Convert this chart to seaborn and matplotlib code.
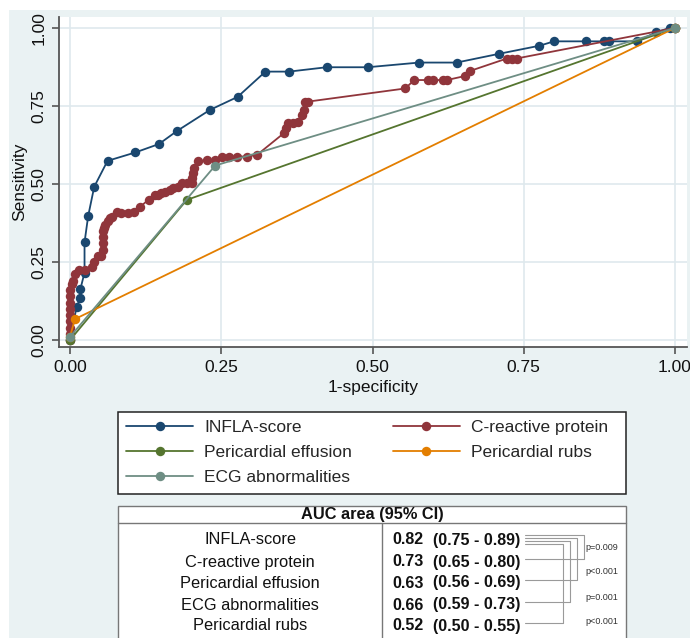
import numpy as np
import pandas as pd
import matplotlib.pyplot as plt
import seaborn as sns
from matplotlib.lines import Line2D
from matplotlib.patches import Rectangle

# ROC points: 1-specificity (fpr) and sensitivity (tpr)
infla_fpr = [0.0, 0.011, 0.017, 0.017, 0.024, 0.024, 0.030, 0.040, 0.062, 0.108,
             0.147, 0.177, 0.231, 0.277, 0.323, 0.362, 0.424, 0.492, 0.577, 0.639,
             0.709, 0.776, 0.800, 0.853, 0.883, 0.891, 0.937, 0.969, 0.991, 1.0]
infla_tpr = [0.0, 0.107, 0.134, 0.162, 0.216, 0.313, 0.397, 0.491, 0.574, 0.601,
             0.628, 0.670, 0.737, 0.779, 0.860, 0.860, 0.874, 0.874, 0.889, 0.889,
             0.917, 0.943, 0.957, 0.957, 0.957, 0.957, 0.957, 0.986, 1.0, 1.0]

crp_fpr = [0.0, 0.0, 0.0, 0.0, 0.0, 0.0, 0.0, 0.0, 0.0, 0.003, 0.005, 0.008, 0.015, 0.025,
           0.036, 0.040, 0.046, 0.052, 0.054, 0.055, 0.055, 0.055, 0.056, 0.058, 0.062, 0.066, 0.069,
           0.077, 0.085, 0.096, 0.106, 0.116, 0.130, 0.140, 0.145, 0.151, 0.157, 0.165,
           0.171, 0.178, 0.185, 0.193, 0.201, 0.201, 0.203, 0.205, 0.212, 0.226, 0.240,
           0.251, 0.263, 0.276, 0.292, 0.309, 0.353, 0.357, 0.361, 0.369, 0.377,
           0.383, 0.386, 0.388, 0.394, 0.554, 0.569, 0.592, 0.600, 0.617, 0.623,
           0.653, 0.661, 0.722, 0.730, 0.738, 1.0]
crp_tpr = [0.0, 0.02, 0.04, 0.06, 0.08, 0.10, 0.12, 0.14, 0.16, 0.18, 0.19, 0.21, 0.225, 0.225,
           0.235, 0.25, 0.27, 0.27, 0.29, 0.31, 0.33, 0.35, 0.36, 0.37, 0.38, 0.39, 0.395,
           0.411, 0.408, 0.408, 0.411, 0.427, 0.45, 0.465, 0.465, 0.47, 0.475, 0.48,
           0.486, 0.49, 0.502, 0.502, 0.502, 0.52, 0.535, 0.55, 0.572, 0.577, 0.577,
           0.588, 0.588, 0.588, 0.588, 0.593, 0.662, 0.68, 0.694, 0.694, 0.699,
           0.72, 0.737, 0.764, 0.764, 0.806, 0.833, 0.833, 0.833, 0.833, 0.833,
           0.846, 0.862, 0.902, 0.902, 0.902, 1.0]

effusion_fpr = [0.0, 0.193, 1.0]
effusion_tpr = [0.0, 0.449, 1.0]
rubs_fpr = [0.0, 0.008, 1.0]
rubs_tpr = [0.01, 0.067, 1.0]
ecg_fpr = [0.0, 0.240, 1.0]
ecg_tpr = [0.01, 0.559, 1.0]

tests = ["INFLA-score", "C-reactive protein", "Pericardial effusion",
         "Pericardial rubs", "ECG abnormalities"]
colors = ["#1a476f", "#90353b", "#55752f", "#e37e00", "#6e8e84"]

ticks = [0, 0.25, 0.5, 0.75, 1.0]
tick_labels = ["0.00", "0.25", "0.50", "0.75", "1.00"]

# AUC table
table_names = ["INFLA-score", "C-reactive protein", "Pericardial effusion",
               "ECG abnormalities", "Pericardial rubs"]
auc_vals = [0.82, 0.73, 0.63, 0.66, 0.52]
ci_low = [0.75, 0.65, 0.56, 0.59, 0.50]
ci_high = [0.89, 0.80, 0.69, 0.73, 0.55]
p_labels = ["p=0.009", "p<0.001", "p=0.001", "p<0.001"]

frames = []
for name, fx, fy in zip(tests,
                        [infla_fpr, crp_fpr, effusion_fpr, rubs_fpr, ecg_fpr],
                        [infla_tpr, crp_tpr, effusion_tpr, rubs_tpr, ecg_tpr]):
    frames.append(pd.DataFrame({"fpr": fx, "tpr": fy, "test": name}))
df = pd.concat(frames, ignore_index=True)

sns.set_style("white")
plt.rcParams["font.family"] = ["Liberation Sans", "DejaVu Sans"]

BG = "#eaf2f3"
fig = plt.figure(figsize=(6.9, 6.38), dpi=100, facecolor=BG)
W, H = 690, 638

ax = fig.add_axes([59 / W, 1 - 347 / H, 628 / W, 330 / H])
ax.set_facecolor("white")
sns.lineplot(data=df, x="fpr", y="tpr", hue="test", hue_order=tests,
             palette=colors, marker="o", markersize=6.8, markeredgewidth=0,
             linewidth=1.3, sort=False, estimator=None, legend=False, ax=ax)

ax.set_xlim(-0.0182, 1.0198)
ax.set_ylim(-0.0224, 1.035)
ax.set_xticks(ticks)
ax.set_xticklabels(tick_labels)
ax.set_yticks(ticks)
ax.set_yticklabels(tick_labels, rotation=90, va="center")
ax.grid(True, color="#dfe9ed", linewidth=1.2)
ax.set_axisbelow(True)
for s in ["top", "right"]:
    ax.spines[s].set_visible(False)
for s in ["left", "bottom"]:
    ax.spines[s].set_color("#555555")
    ax.spines[s].set_linewidth(1.3)
ax.tick_params(direction="out", length=5, width=1.2, color="#555555",
               labelsize=12.5, labelcolor="#111111", pad=4, left=True, bottom=True)
ax.set_xlabel("1-specificity", fontsize=12.5, color="#111111", labelpad=4)
ax.set_ylabel("Sensitivity", fontsize=12.5, color="#111111", labelpad=3)

# overlay in pixel coordinates for the legend frame and the table
lay = fig.add_axes([0, 0, 1, 1])
lay.set_xlim(0, W)
lay.set_ylim(H, 0)
lay.axis("off")
lay.add_patch(Rectangle((0, 0), W, 10, color="white", lw=0))
lay.add_patch(Rectangle((0, 0), 9, H, color="white", lw=0))
lay.add_patch(Rectangle((118, 412), 508, 82, facecolor="white",
                        edgecolor="#222222", lw=1.1))

# legend (column-major fill gives the row order of the original)
handle = {t: Line2D([], [], color=c, marker="o", markersize=6.8,
                    markeredgewidth=0, linewidth=1.3)
          for t, c in zip(tests, colors)}
order = ["INFLA-score", "Pericardial effusion", "ECG abnormalities",
         "C-reactive protein", "Pericardial rubs"]
leg = fig.legend([handle[t] for t in order], order, loc="upper left",
                 bbox_to_anchor=(118 / W, 1 - 412 / H),
                 ncol=2, frameon=False, fontsize=12.5,
                 handlelength=3.85, handletextpad=0.63, labelspacing=0.55,
                 borderpad=0.47, borderaxespad=0, columnspacing=2.36)

lay.add_patch(Rectangle((118, 506), 508, 150, facecolor="white",
                        edgecolor="#777777", lw=1.0))
lay.plot([118, 626], [523, 523], color="#777777", lw=1.0)
lay.plot([382, 382], [523, 640], color="#777777", lw=1.0)
lay.text(372, 515, "AUC area (95% CI)", ha="center", va="center",
         fontsize=11.8, fontweight="bold", color="#111111")

row_y = [540, 562, 583, 605, 626]
for name, a, lo, hi, y in zip(table_names, auc_vals, ci_low, ci_high, row_y):
    lay.text(250, y, name, ha="center", va="center", fontsize=11.8, color="#111111")
    lay.text(392, y, f"{a:.2f}", ha="left", va="center", fontsize=11.5,
             fontweight="bold", color="#111111")
    lay.text(433, y, f"({lo:.2f} - {hi:.2f})", ha="left", va="center",
             fontsize=11.5, fontweight="bold", color="#111111")

# comparison brackets INFLA-score vs others
br_x = [584, 577, 570, 563]
br_top = [535, 538, 541, 544]
for k, p in enumerate(p_labels):
    yb = row_y[k + 1] - 3
    lay.plot([525, br_x[k], br_x[k], 525], [br_top[k], br_top[k], yb, yb],
             color="#9a9a9a", lw=0.8)
p_y = [547, 572, 597, 622]
for p, y in zip(p_labels, p_y):
    lay.text(602, y, p, ha="center", va="center", fontsize=6.5, color="#333333")

fig.savefig("out.png", dpi=100, facecolor=BG)
